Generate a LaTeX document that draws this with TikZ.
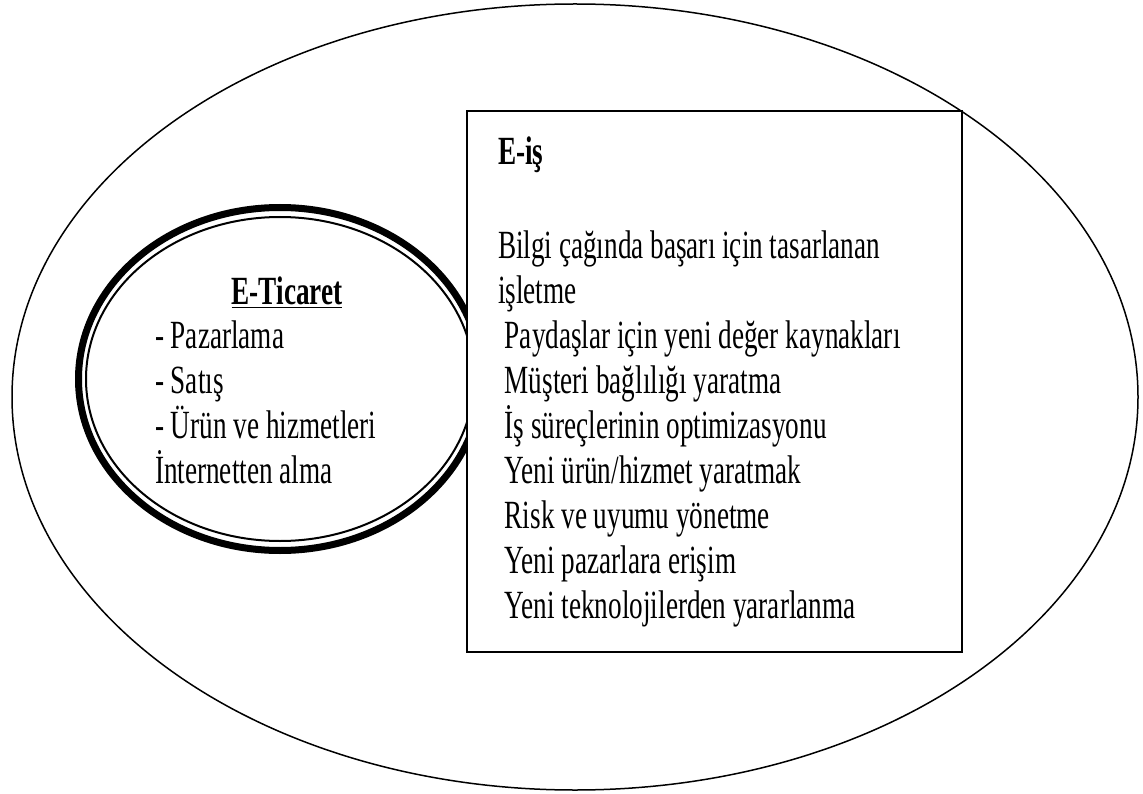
\documentclass[tikz,border=0pt]{standalone}
\usepackage{fontspec}
\setmainfont{Liberation Serif}[FakeStretch=0.68]
\usetikzlibrary{shapes.geometric, positioning}

\begin{document}
\begin{tikzpicture}[x=1pt,y=-1pt,
    every node/.style={font=\fontsize{40}{45}\selectfont, inner sep=0pt, outer sep=0pt},
    ring/.style={draw, ellipse, line width=1.5pt},
    thickring/.style={draw, ellipse, line width=7pt},
    thinring/.style={draw, ellipse, line width=2pt},
    eisbox/.style={draw, fill=white, line width=1.5pt, anchor=north west,
        minimum width=495pt, minimum height=541pt},
    lines/.style={align=left, anchor=base west}]
    \useasboundingbox (0,0) rectangle (1143,794);
    \node[ring, minimum width=1126pt, minimum height=786pt] (ebiz) at (575,397) {};
    \node[thickring, minimum width=403pt, minimum height=343pt] (ecom) at (280,379) {};
    \node[thinring, minimum width=388pt, minimum height=324pt] (ecomin) at (280,379) {};
    \node[eisbox] (eis) at (467,111) {};

    % E-Ticaret (base = last line)
    \node[anchor=base] (tictitle) at (287,305) {\underline{\textbf{E-Ticaret}}};
    \node[lines] (ticlist) at (155,483) {- Pazarlama\\- Satış\\- Ürün ve hizmetleri\\İnternetten alma};

    % E-is
    \node[anchor=base west] (eistitle) at (498,165) {\textbf{E-iş}};
    \node[lines] (eislist) at (498,618) {Bilgi çağında başarı için tasarlanan\\işletme\\
        \ Paydaşlar için yeni değer kaynakları\\\ Müşteri bağlılığı yaratma\\
        \ İş süreçlerinin optimizasyonu\\\ Yeni ürün/hizmet yaratmak\\
        \ Risk ve uyumu yönetme\\\ Yeni pazarlara erişim\\
        \ Yeni teknolojilerden yararlanma};
\end{tikzpicture}
\end{document}
